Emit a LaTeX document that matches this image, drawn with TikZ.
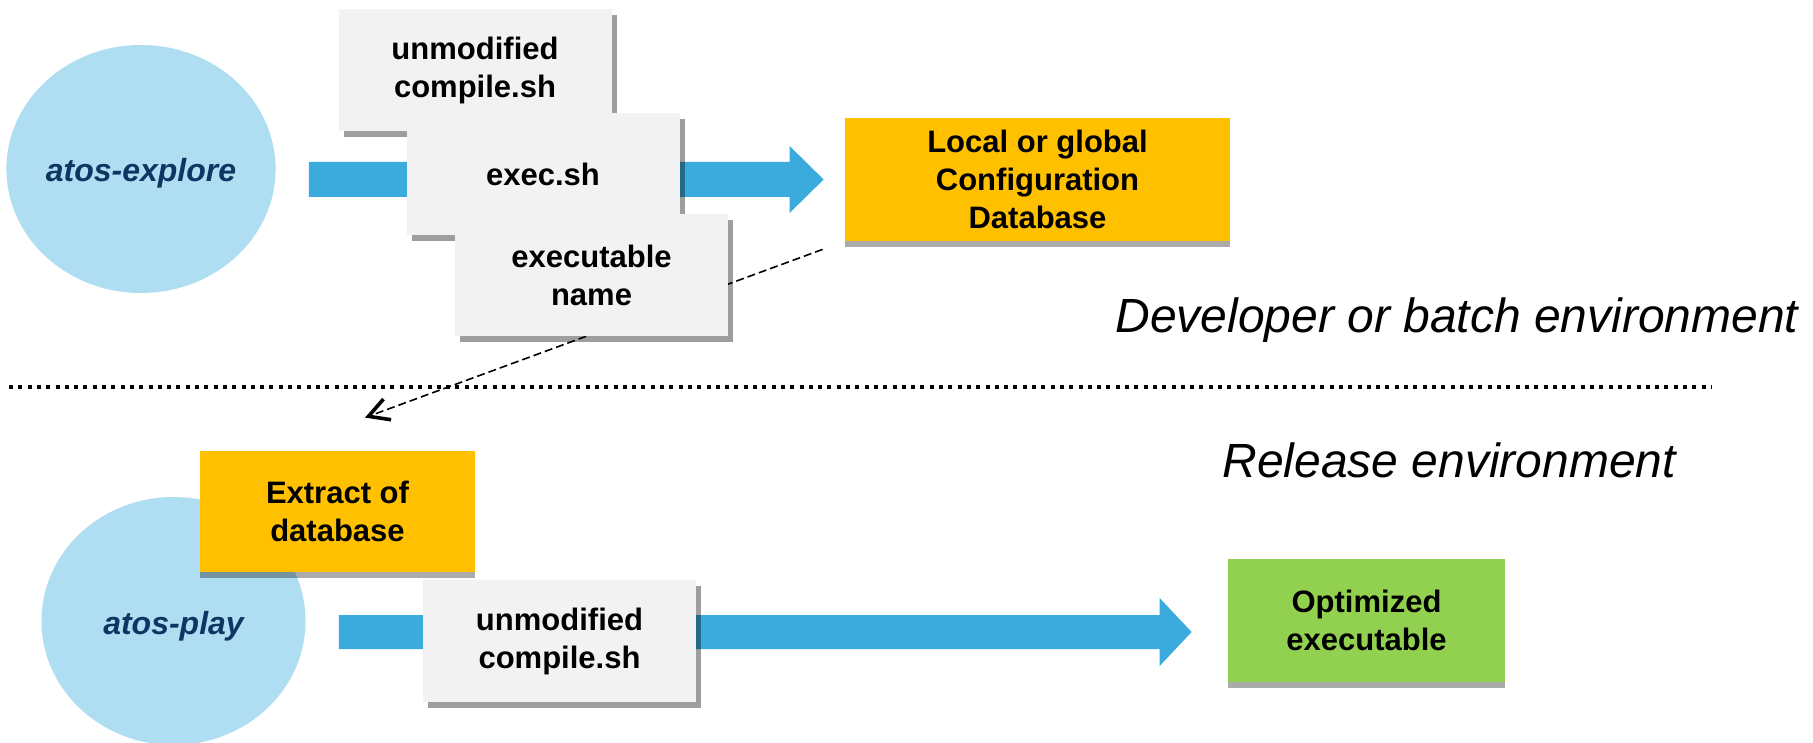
\documentclass[tikz,border=0pt]{standalone}
\usepackage{fontspec}
\setmainfont{Liberation Sans}
\usetikzlibrary{shapes.geometric,arrows.meta,calc,shadows}

\definecolor{bubble}{HTML}{AFDDF1}
\definecolor{flow}{HTML}{3BAADC}
\definecolor{navy}{HTML}{0F3563}
\definecolor{cardgray}{HTML}{F2F2F2}
\definecolor{gold}{HTML}{FFC000}
\definecolor{leaf}{HTML}{92D050}

\newcommand\cardfont{\fontsize{15.5pt}{19pt}\selectfont\bfseries}

\begin{document}
\begin{tikzpicture}[x=0.5pt, y=-0.5pt,
  tool/.style={ellipse, fill=bubble, minimum width=132pt, minimum height=124pt,
    inner sep=0pt, text=navy, font=\fontsize{16pt}{19pt}\selectfont\bfseries\itshape,
    text height=15pt, text depth=2pt},
  cardbox/.style={rectangle, fill=cardgray, minimum width=136.5pt, minimum height=61pt,
    inner sep=0pt, align=center, font=\cardfont,
    drop shadow={shadow xshift=2.5pt, shadow yshift=-2.8pt, fill=black, opacity=0.38}},
  flatbox/.style={rectangle, inner sep=0pt, align=center, font=\cardfont,
    drop shadow={shadow xshift=0pt, shadow yshift=-3pt, fill=black, opacity=0.33}},
  envlabel/.style={anchor=base west, inner sep=0pt,
    font=\fontsize{24pt}{28pt}\selectfont\itshape},
  separator/.style={line width=2pt, dash pattern=on 2pt off 2.65pt},
  handoff/.style={line width=0.8pt, dash pattern=on 4pt off 2pt,
    -{Straight Barb[length=10pt, width=11pt, line width=1.8pt]}}
]
\useasboundingbox (0,0) rectangle (1813,743);
\fill[white] (0,0) rectangle (1813,743);

% tools
\node[tool] (explore) at (141,169) {atos-explore};
\node[tool] (play) at (173.5,621) {atos-play};

% databases
\node[flatbox, fill=gold, minimum width=192.5pt, minimum height=61.5pt] (cfg)
  at (1037.5,179.5) {Local or global\\Configuration\\Database};
\node[flatbox, fill=gold, minimum width=137.5pt, minimum height=60.5pt] (ext)
  at (337.5,511.5) {Extract of\\database};

% the extract is taken from the database
\coordinate (dbtap) at ($(cfg.south west)+(-22,8)$);
\coordinate (dbdrop) at ($(ext.north)+(27.5,-33)$);
\draw[handoff] (dbtap) -- (dbdrop);

% exploration flow
\coordinate (a1) at ($(explore.east |- cfg.west)+(33,0)$);
\coordinate (a2) at ($(cfg.west)+(-21,0)$);
\fill[flow] ($(a1)+(0,-17.5)$) -- ($(a2)+(-34,-17.5)$) -- ($(a2)+(-34,-33.5)$) -- (a2)
  -- ($(a2)+(-34,33.5)$) -- ($(a2)+(-34,17.5)$) -- ($(a1)+(0,17.5)$) -- cycle;

\node[cardbox] (cmpA) at (475,70) {unmodified\\compile.sh};
\node[cardbox] (exec) at (543,174.5) {exec.sh};
\node[cardbox] (exe) at (591.5,275) {executable\\name};

% release flow
\node[flatbox, fill=leaf, minimum width=138.5pt, minimum height=61.5pt] (opt)
  at (1366.5,620.5) {Optimized\\executable};
\coordinate (b1) at ($(play.east)+(33,11)$);
\coordinate (b2) at ($(opt.west)+(-36,11.5)$);
\fill[flow] ($(b1)+(0,-17)$) -- ($(b2)+(-32,-17)$) -- ($(b2)+(-32,-34)$) -- (b2)
  -- ($(b2)+(-32,34)$) -- ($(b2)+(-32,17)$) -- ($(b1)+(0,17)$) -- cycle;
\node[cardbox] (cmpB) at (559.5,641) {unmodified\\compile.sh};

% environment split
\coordinate (sepL) at (9,387);
\coordinate (sepR) at (1711,387);
\draw[separator] (sepL) -- (sepR);
\node[envlabel] (devenv) at (1115,332) {Developer or batch environment};
\node[envlabel] (relenv) at (1222,477) {Release environment};
\end{tikzpicture}
\end{document}
